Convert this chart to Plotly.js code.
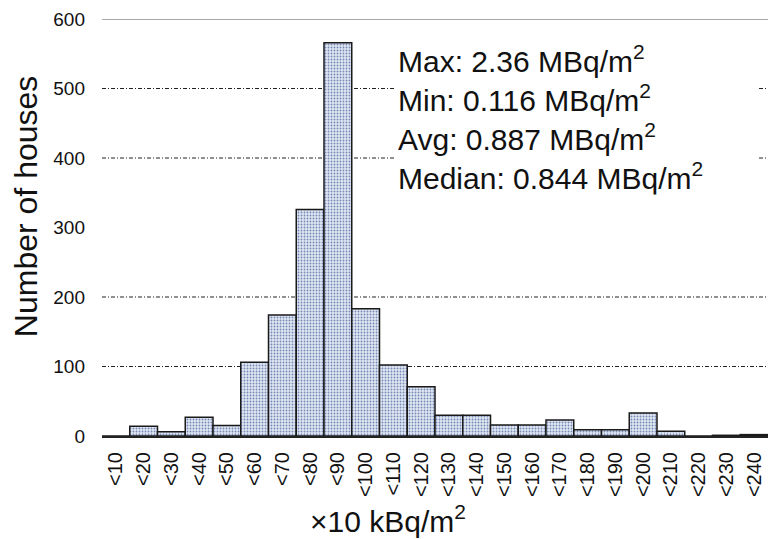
<!DOCTYPE html>
<html>
<head>
<meta charset="utf-8">
<script src="https://cdn.plot.ly/plotly-3.0.1.min.js"></script>
<style>html,body{margin:0;padding:0;background:#fff;}#chart{width:771px;height:539px;}</style>
</head>
<body>
<div id="chart"></div>
<script>
// Categories (×10 kBq/m²)
var categories = ["<10","<20","<30","<40","<50","<60","<70","<80","<90","<100","<110","<120",
                  "<130","<140","<150","<160","<170","<180","<190","<200","<210","<220","<230","<240"];
// Number of houses in each bin
var houses = [0, 14, 6, 27, 15, 106, 174, 326, 566, 183, 102, 71,
              30, 30, 16, 16, 23, 9, 9, 33, 7, 0, 1, 2];
// Y tick values
var yTicks = [0, 100, 200, 300, 400, 500, 600];
// Dashed grid values (the 300 line is absent in the reference)
var gridValues = [100, 200, 400, 500];
var topValue = 600;
// Summary statistics text
var statLines = ["Max: 2.36 MBq/m<sup>2</sup>",
                 "Min: 0.116 MBq/m<sup>2</sup>",
                 "Avg: 0.887 MBq/m<sup>2</sup>",
                 "Median: 0.844 MBq/m<sup>2</sup>"];
var xTitle = "×10 kBq/m<sup>2</sup>";
var yTitle = "Number of houses";

var FONT = "Liberation Sans, Arial, sans-serif";

var trace = {
  type: "bar",
  x: categories,
  y: houses,
  marker: {
    color: "#dfe5f1",
    line: {color: "#1a1a1a", width: 1.5},
    pattern: {shape: ".", fgcolor: "#7489b6", bgcolor: "#e2e8f3", size: 3, solidity: 0.3}
  },
  hoverinfo: "x+y"
};

var shapes = gridValues.map(function (v) {
  return {type: "line", xref: "paper", yref: "y", x0: 0, x1: 1, y0: v, y1: v,
          line: {color: "#222", width: 1, dash: "4px,2px,1px,2px"}, layer: "below"};
});
shapes.push({type: "line", xref: "paper", yref: "y", x0: 0, x1: 1, y0: topValue, y1: topValue,
             line: {color: "#8a8a8a", width: 1.5}, layer: "below"});

var layout = {
  width: 771, height: 539,
  margin: {l: 102, r: 3, t: 19, b: 103, pad: 0},
  paper_bgcolor: "#fff", plot_bgcolor: "#fff",
  showlegend: false,
  bargap: 0,
  font: {family: FONT, color: "#111"},
  xaxis: {
    type: "category",
    range: [-0.5, 23.5],
    tickangle: -90,
    tickfont: {size: 20, family: FONT, color: "#111"},
    ticks: "",
    ticklabelstandoff: 6,
    showgrid: false, zeroline: false,
    showline: true, linecolor: "#222", linewidth: 2,
    fixedrange: true
  },
  yaxis: {
    range: [0, 600],
    tickvals: yTicks,
    tickfont: {size: 19, family: FONT, color: "#111"},
    ticks: "",
    ticklabelstandoff: 16,
    showgrid: false, zeroline: false, showline: false,
    fixedrange: true
  },
  shapes: shapes,
  annotations: [
    {xref: "paper", yref: "paper", x: 0.44, y: 0.958, xanchor: "left", yanchor: "top",
     align: "left", width: 357, text: statLines.join("<br>"), showarrow: false,
     bgcolor: "#fff", borderpad: 2,
     font: {size: 30, family: FONT, color: "#111"}},
    {xref: "paper", yref: "paper", x: 0.429, y: -0.198, xanchor: "center", yanchor: "middle",
     text: xTitle, showarrow: false, font: {size: 30, family: FONT, color: "#111"}},
    {xref: "paper", yref: "paper", x: -0.114, y: 0.549, xanchor: "center", yanchor: "middle",
     textangle: -90, text: yTitle, showarrow: false, font: {size: 32, family: FONT, color: "#111"}}
  ]
};

Plotly.newPlot("chart", [trace], layout, {displayModeBar: false, staticPlot: true});
</script>
</body>
</html>
